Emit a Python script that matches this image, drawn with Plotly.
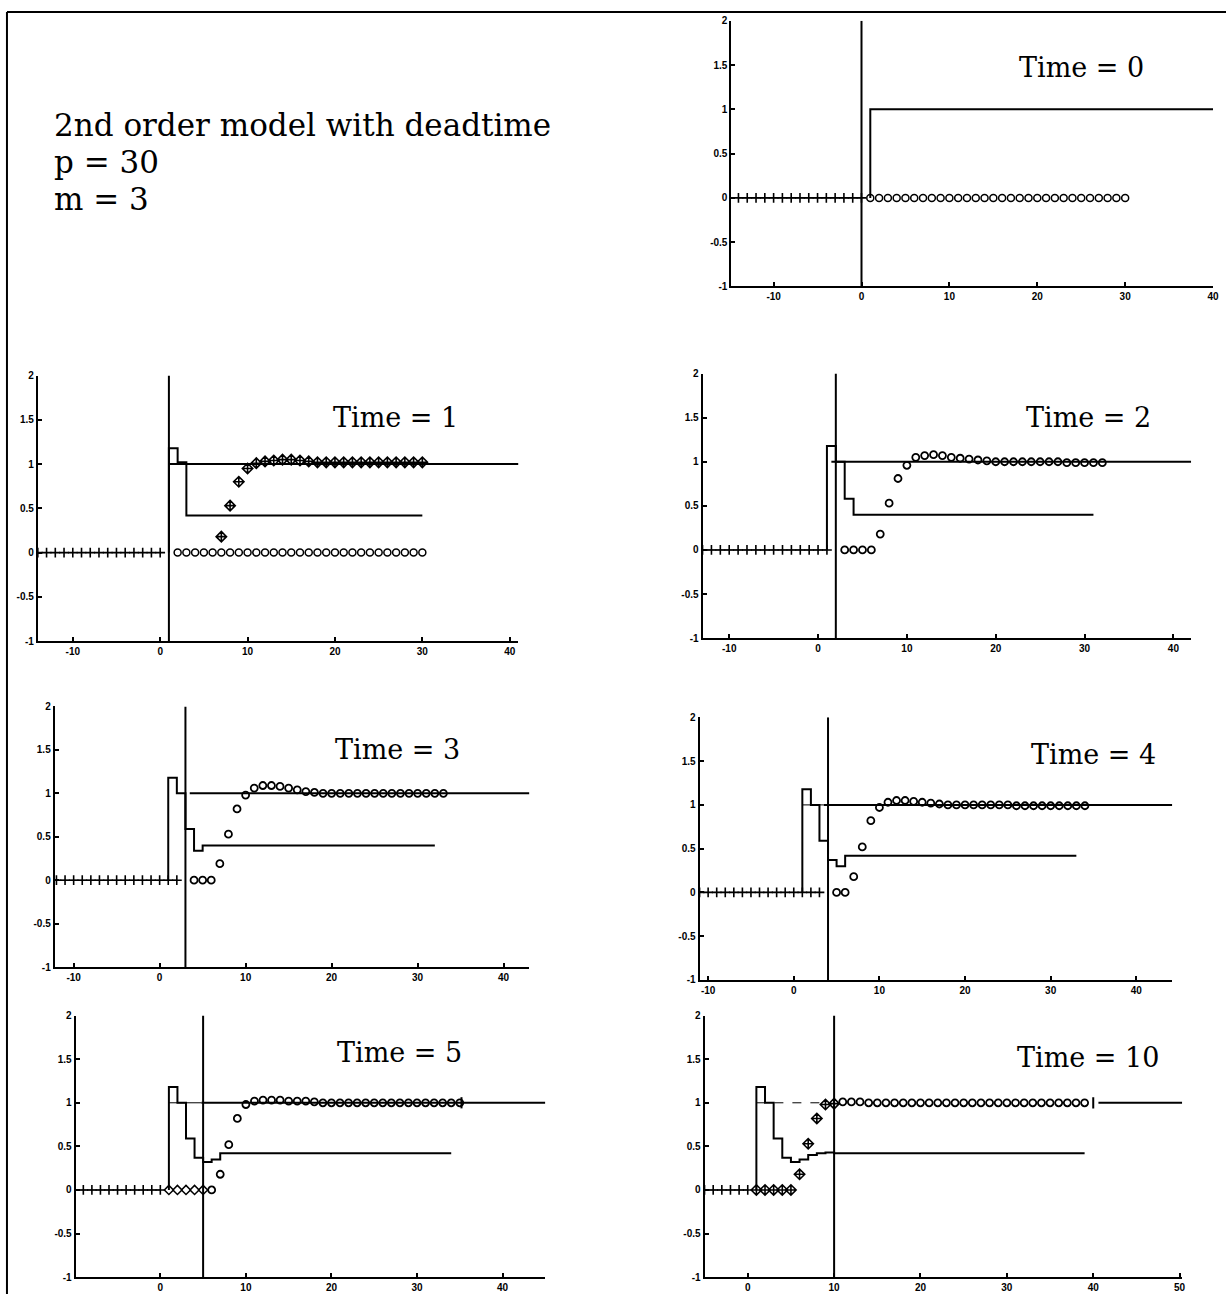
import plotly.graph_objects as go

W, H = 1232, 1300

# ---------------- data ----------------
TIMES = [0, 1, 2, 3, 4, 5, 10]
TIME_LABELS = ["Time = 0", "Time = 1", "Time = 2", "Time = 3", "Time = 4", "Time = 5", "Time = 10"]
HEADER_LINES = ["2nd order model with deadtime", "p = 30", "m = 3"]

Y_TICKS = [-1, -0.5, 0, 0.5, 1, 1.5, 2]
Y_TICK_TEXT = ["-1", "-0.5", "0", "0.5", "1", "1.5", "2"]
X_TICKS = [-10, 0, 10, 20, 30, 40]
X_TICKS_T10 = [0, 10, 20, 30, 40, 50]
X_RANGES = [[-14.8, 40], [-14, 41], [-13, 42], [-12.2, 43], [-11, 44.2], [-9.9, 45], [-5, 50.3]]
Y_RANGE = [-1, 2]

# Time = 0
PAST0_X = [-14, -13, -12, -11, -10, -9, -8, -7, -6, -5, -4, -3, -2, -1, 0]
PAST0_Y = [0, 0, 0, 0, 0, 0, 0, 0, 0, 0, 0, 0, 0, 0, 0]
ZERO0_X = [1, 2, 3, 4, 5, 6, 7, 8, 9, 10, 11, 12, 13, 14, 15, 16, 17, 18, 19, 20,
           21, 22, 23, 24, 25, 26, 27, 28, 29, 30]
ZERO0_Y = [0, 0, 0, 0, 0, 0, 0, 0, 0, 0, 0, 0, 0, 0, 0, 0, 0, 0, 0, 0,
           0, 0, 0, 0, 0, 0, 0, 0, 0, 0]
SP0_X = [1, 1, 40]
SP0_Y = [0, 1, 1]

# Time = 1
PAST1_X = [-14, -13, -12, -11, -10, -9, -8, -7, -6, -5, -4, -3, -2, -1, 0]
PAST1_Y = [0, 0, 0, 0, 0, 0, 0, 0, 0, 0, 0, 0, 0, 0, 0]
ZERO1_X = [2, 3, 4, 5, 6, 7, 8, 9, 10, 11, 12, 13, 14, 15, 16, 17, 18, 19, 20,
           21, 22, 23, 24, 25, 26, 27, 28, 29, 30]
ZERO1_Y = [0, 0, 0, 0, 0, 0, 0, 0, 0, 0, 0, 0, 0, 0, 0, 0, 0, 0, 0,
           0, 0, 0, 0, 0, 0, 0, 0, 0, 0]
PRED1_X = [7, 8, 9, 10, 11, 12, 13, 14, 15, 16, 17, 18, 19, 20, 21, 22, 23, 24,
           25, 26, 27, 28, 29, 30]
PRED1_Y = [0.18, 0.53, 0.80, 0.95, 1.01, 1.03, 1.04, 1.05, 1.05, 1.04, 1.03, 1.02,
           1.02, 1.02, 1.02, 1.02, 1.02, 1.02, 1.02, 1.02, 1.02, 1.02, 1.02, 1.02]
U1_X = [1, 1, 2, 3, 30]
U1_Y = [0, 1.18, 1.02, 0.42, 0.42]
SP1 = [0.9, 41]

# Time = 2
PAST2_X = [-13, -12, -11, -10, -9, -8, -7, -6, -5, -4, -3, -2, -1, 0, 1]
PAST2_Y = [0, 0, 0, 0, 0, 0, 0, 0, 0, 0, 0, 0, 0, 0, 0]
PRED2_X = [3, 4, 5, 6, 7, 8, 9, 10, 11, 12, 13, 14, 15, 16, 17, 18, 19, 20, 21, 22,
           23, 24, 25, 26, 27, 28, 29, 30, 31, 32]
PRED2_Y = [0, 0, 0, 0, 0.18, 0.53, 0.81, 0.96, 1.05, 1.07, 1.08, 1.07, 1.05, 1.04,
           1.03, 1.02, 1.01, 1.0, 1.0, 1.0, 1.0, 1.0, 1.0, 1.0, 1.0, 0.99, 0.99, 0.99,
           0.99, 0.99]
U2_X = [1, 1, 2, 3, 4, 31]
U2_Y = [0, 1.18, 1.0, 0.58, 0.40, 0.40]
SP2 = [1.5, 42]

# Time = 3
PAST3_X = [-12, -11, -10, -9, -8, -7, -6, -5, -4, -3, -2, -1, 0, 1, 2]
PAST3_Y = [0, 0, 0, 0, 0, 0, 0, 0, 0, 0, 0, 0, 0, 0, 0]
PRED3_X = [4, 5, 6, 7, 8, 9, 10, 11, 12, 13, 14, 15, 16, 17, 18, 19, 20, 21, 22, 23,
           24, 25, 26, 27, 28, 29, 30, 31, 32, 33]
PRED3_Y = [0, 0, 0, 0.19, 0.53, 0.82, 0.98, 1.06, 1.09, 1.09, 1.08, 1.06, 1.04, 1.02,
           1.01, 1.0, 1.0, 1.0, 1.0, 1.0, 1.0, 1.0, 1.0, 1.0, 1.0, 1.0, 1.0, 1.0, 1.0, 1.0]
U3_X = [1, 1, 2, 3, 4, 5, 32]
U3_Y = [0, 1.18, 1.0, 0.59, 0.34, 0.40, 0.40]
SP3 = [3.5, 43]

# Time = 4
PAST4_X = [-11, -10, -9, -8, -7, -6, -5, -4, -3, -2, -1, 0, 1, 2, 3]
PAST4_Y = [0, 0, 0, 0, 0, 0, 0, 0, 0, 0, 0, 0, 0, 0, 0]
PRED4_X = [5, 6, 7, 8, 9, 10, 11, 12, 13, 14, 15, 16, 17, 18, 19, 20, 21, 22, 23, 24,
           25, 26, 27, 28, 29, 30, 31, 32, 33, 34]
PRED4_Y = [0, 0, 0.18, 0.52, 0.82, 0.97, 1.03, 1.05, 1.05, 1.04, 1.03, 1.02, 1.01,
           1.0, 1.0, 1.0, 1.0, 1.0, 1.0, 1.0, 1.0, 0.99, 0.99, 0.99, 0.99, 0.99, 0.99,
           0.99, 0.99, 0.99]
U4_X = [1, 1, 2, 3, 4, 5, 6, 33]
U4_Y = [0, 1.18, 1.0, 0.59, 0.37, 0.30, 0.42, 0.42]
SP4 = [3.5, 44.2]
SP4_PAST = [1, 3.5]

# Time = 5
PAST5_X = [-10, -9, -8, -7, -6, -5, -4, -3, -2, -1, 0]
PAST5_Y = [0, 0, 0, 0, 0, 0, 0, 0, 0, 0, 0]
MEAS5_X = [1, 2, 3, 4, 5]
MEAS5_Y = [0, 0, 0, 0, 0]
PRED5_X = [6, 7, 8, 9, 10, 11, 12, 13, 14, 15, 16, 17, 18, 19, 20, 21, 22, 23, 24, 25,
           26, 27, 28, 29, 30, 31, 32, 33, 34, 35]
PRED5_Y = [0, 0.18, 0.52, 0.82, 0.98, 1.02, 1.03, 1.03, 1.03, 1.02, 1.02, 1.02, 1.01,
           1.0, 1.0, 1.0, 1.0, 1.0, 1.0, 1.0, 1.0, 1.0, 1.0, 1.0, 1.0, 1.0, 1.0, 1.0,
           1.0, 1.0]
U5_X = [1, 1, 2, 3, 4, 5, 6, 7, 34]
U5_Y = [0, 1.18, 1.0, 0.59, 0.37, 0.32, 0.35, 0.42, 0.42]
SP5 = [4.8, 45]
SP5_PAST = [1, 4.8]
END5_X = [35.2]
END5_Y = [1.0]

# Time = 10
PAST10_X = [-5, -4, -3, -2, -1, 0]
PAST10_Y = [0, 0, 0, 0, 0, 0]
MEAS10_X = [1, 2, 3, 4, 5, 6, 7, 8, 9, 10]
MEAS10_Y = [0, 0, 0, 0, 0, 0.18, 0.53, 0.82, 0.98, 0.99]
PRED10_X = [11, 12, 13, 14, 15, 16, 17, 18, 19, 20, 21, 22, 23, 24, 25, 26, 27, 28,
            29, 30, 31, 32, 33, 34, 35, 36, 37, 38, 39]
PRED10_Y = [1.01, 1.01, 1.01, 1.0, 1.0, 1.0, 1.0, 1.0, 1.0, 1.0, 1.0, 1.0, 1.0, 1.0,
            1.0, 1.0, 1.0, 1.0, 1.0, 1.0, 1.0, 1.0, 1.0, 1.0, 1.0, 1.0, 1.0, 1.0, 1.0]
U10_X = [1, 1, 2, 3, 4, 5, 6, 7, 8, 9, 10, 39]
U10_Y = [0, 1.18, 1.0, 0.59, 0.37, 0.32, 0.35, 0.40, 0.42, 0.43, 0.42, 0.42]
SP10 = [40.6, 50.3]
SP10_PAST = [1, 9]
END10_X = [40]
END10_Y = [1.0]

# ---------------- layout geometry (pixels) ----------------
PANEL_BOX = [(735, 1219, 15, 283), (38, 521, 373, 641), (706, 1197, 371, 638),
             (55, 532, 707, 970), (703, 1178, 718, 983), (76, 548, 1019, 1283),
             (708, 1188, 1019, 1283)]
TITLE_POS = [(1087, 62), (397, 415), (1094, 415), (399, 750), (1099, 755),
             (401, 1056), (1093, 1061)]
HEADER_POS = [(52, 120), (52, 157), (52, 195)]

BLACK = "#000000"
fig = go.Figure()


def add(i, **kw):
    ax = "" if i == 0 else str(i + 1)
    kw.setdefault("showlegend", False)
    kw.setdefault("hoverinfo", "skip")
    fig.add_trace(go.Scatter(xaxis="x" + ax, yaxis="y" + ax, **kw))


def past_row(i, xs, ys):
    add(i, x=xs, y=ys, mode="lines+markers", line=dict(color=BLACK, width=1),
        marker=dict(symbol="cross-thin-open", size=7, color=BLACK,
                    line=dict(width=1.6, color=BLACK)))


def circles(i, xs, ys, symbol="circle-open", size=7, lw=1.5):
    add(i, x=xs, y=ys, mode="markers",
        marker=dict(symbol=symbol, size=size, color=BLACK,
                    line=dict(width=lw, color=BLACK)))


def stairs(i, xs, ys, width=2):
    add(i, x=xs, y=ys, mode="lines", line=dict(color=BLACK, width=width, shape="hv"))


def hline(i, seg, val, width=2, dash="solid"):
    add(i, x=seg, y=[val, val], mode="lines", line=dict(color=BLACK, width=width, dash=dash))


def time_line(i, t):
    add(i, x=[t, t], y=Y_RANGE, mode="lines", line=dict(color=BLACK, width=2))


# Panel 0 (Time = 0)
past_row(0, PAST0_X, PAST0_Y)
circles(0, ZERO0_X, ZERO0_Y)
stairs(0, SP0_X, SP0_Y)
time_line(0, TIMES[0])

# Panel 1 (Time = 1)
past_row(1, PAST1_X, PAST1_Y)
circles(1, ZERO1_X, ZERO1_Y)
hline(1, SP1, 1.0)
stairs(1, U1_X, U1_Y)
circles(1, PRED1_X, PRED1_Y, symbol="diamond-cross-open", size=8, lw=1.6)
time_line(1, TIMES[1])

# Panel 2 (Time = 2)
past_row(2, PAST2_X, PAST2_Y)
hline(2, SP2, 1.0)
stairs(2, U2_X, U2_Y)
circles(2, PRED2_X, PRED2_Y, lw=1.8)
time_line(2, TIMES[2])

# Panel 3 (Time = 3)
past_row(3, PAST3_X, PAST3_Y)
hline(3, SP3, 1.0)
stairs(3, U3_X, U3_Y)
circles(3, PRED3_X, PRED3_Y, lw=1.8)
time_line(3, TIMES[3])

# Panel 4 (Time = 4)
past_row(4, PAST4_X, PAST4_Y)
hline(4, SP4_PAST, 1.0, width=1)
hline(4, SP4, 1.0)
stairs(4, U4_X, U4_Y)
circles(4, PRED4_X, PRED4_Y, lw=1.8)
time_line(4, TIMES[4])

# Panel 5 (Time = 5)
past_row(5, PAST5_X, PAST5_Y)
circles(5, MEAS5_X, MEAS5_Y, symbol="diamond-open", size=7)
hline(5, SP5_PAST, 1.0, width=1)
hline(5, SP5, 1.0)
stairs(5, U5_X, U5_Y)
circles(5, PRED5_X, PRED5_Y, lw=1.8)
circles(5, END5_X, END5_Y, symbol="line-ns-open", size=8, lw=2)
time_line(5, TIMES[5])

# Panel 6 (Time = 10)
past_row(6, PAST10_X, PAST10_Y)
hline(6, SP10_PAST, 1.0, width=1, dash="dash")
hline(6, SP10, 1.0)
stairs(6, U10_X, U10_Y)
circles(6, MEAS10_X, MEAS10_Y, symbol="diamond-cross-open", size=8, lw=1.6)
circles(6, PRED10_X, PRED10_Y, lw=1.8)
circles(6, END10_X, END10_Y, symbol="line-ns-open", size=8, lw=2)
time_line(6, TIMES[6])

# ---------------- axes ----------------
tickfont = dict(family="Liberation Sans", size=10, color=BLACK, weight="bold")
layout = dict(
    width=W, height=H, margin=dict(l=0, r=0, t=0, b=0),
    paper_bgcolor="white", plot_bgcolor="white", showlegend=False,
)
for i, (l, r, t, b) in enumerate(PANEL_BOX):
    ax = "" if i == 0 else str(i + 1)
    xt = X_TICKS_T10 if TIMES[i] == 10 else X_TICKS
    layout["xaxis" + ax] = dict(
        domain=[l / W, r / W], range=X_RANGES[i], anchor="y" + ax,
        showline=True, linecolor=BLACK, linewidth=2, mirror=False,
        showgrid=False, zeroline=False, ticks="inside", ticklen=4, tickwidth=1.5,
        tickcolor=BLACK, tickvals=xt, ticktext=[str(v) for v in xt],
        tickfont=tickfont, fixedrange=True,
    )
    layout["yaxis" + ax] = dict(
        domain=[1 - b / H, 1 - t / H], range=Y_RANGE, anchor="x" + ax,
        showline=True, linecolor=BLACK, linewidth=2, mirror=False,
        showgrid=False, zeroline=False, ticks="inside", ticklen=4, tickwidth=1.5,
        tickcolor=BLACK, tickvals=Y_TICKS, ticktext=Y_TICK_TEXT,
        tickfont=tickfont, fixedrange=True,
    )

annotations = []
for label, (cx, cy) in zip(TIME_LABELS, TITLE_POS):
    annotations.append(dict(
        xref="paper", yref="paper", x=cx / W, y=1 - cy / H, xanchor="center",
        yanchor="middle", text=label, showarrow=False,
        font=dict(family="DejaVu Serif", size=27, color=BLACK)))
for line, (lx, ly) in zip(HEADER_LINES, HEADER_POS):
    annotations.append(dict(
        xref="paper", yref="paper", x=lx / W, y=1 - ly / H, xanchor="left",
        yanchor="middle", text=line, showarrow=False,
        font=dict(family="DejaVu Serif", size=31, color=BLACK)))
layout["annotations"] = annotations

layout["shapes"] = [
    dict(type="line", xref="paper", yref="paper", x0=7 / W, x1=7 / W,
         y0=1 - 6 / H, y1=0, line=dict(color=BLACK, width=2)),
    dict(type="line", xref="paper", yref="paper", x0=7 / W, x1=1,
         y0=1 - 6 / H, y1=1 - 6 / H, line=dict(color=BLACK, width=2)),
]

fig.update_layout(**layout)
fig.write_html(
    "out.html",
    config={"displayModeBar": False},
    post_script="document.body.style.margin='0';"
                "document.documentElement.style.overflow='hidden';",
)
